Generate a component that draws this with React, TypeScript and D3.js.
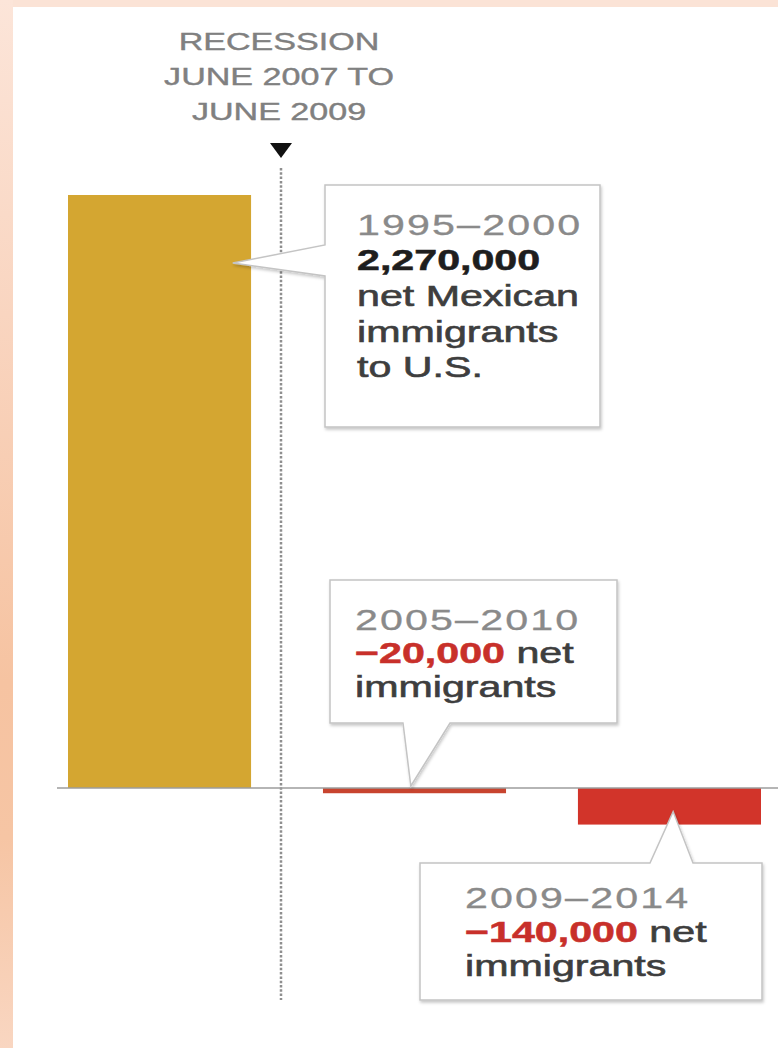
import React from "react";
import * as d3 from "d3";

// ---- data ----
const periods = ["1995–2000", "2005–2010", "2009–2014"];
const netMigrants = [2270000, -20000, -140000];
const barColors = ["#d4a631", "#c8442f", "#d2342a"];
const recessionLines = ["RECESSION", "JUNE 2007 TO", "JUNE 2009"];
const calloutTails = [["net Mexican", "immigrants", "to U.S."], ["net", "immigrants"], ["net", "immigrants"]];

const W = 778;
const H = 1048;
const SX = 1.42;
const FONT = "'Liberation Sans', Arial, sans-serif";

export default function App() {
  const x = d3.scaleBand<string>().domain(periods).range([68, 761]).paddingInner(0.282).paddingOuter(0);
  const y = d3.scaleLinear().domain([0, 2270000]).range([788, 195]);
  const bw = x.bandwidth();
  const fmt = d3.format(",");
  const recessionX = 281;

  const tip0 = [x(periods[0])! + bw * 0.9, y(netMigrants[0]) + 68];
  const tip1 = [x(periods[1])! + bw * 0.48, y(0) - 2];
  const tip2 = [x(periods[2])! + bw * 0.52, y(netMigrants[2]) - 13];

  const box0 = `M325,185 H600 V427 H325 V276 L${tip0[0]},${tip0[1]} L325,245 Z`;
  const box1 = `M330,580 H617 V723 H450 L${tip1[0]},${tip1[1]} L403,723 H330 Z`;
  const box2 = `M420,863 H650 L${tip2[0]},${tip2[1]} L693,863 H762 V1000 H420 Z`;

  const T = (px: number, py: number, children: React.ReactNode, props: any = {}) => (
    <text transform={`translate(${px},${py}) scale(${SX},1)`} fontFamily={FONT} fontSize={29} {...props}>
      {children}
    </text>
  );

  const yearProps = { fill: "#8a8a8a", letterSpacing: 1.5, stroke: "#8a8a8a", strokeWidth: 0.3 };
  const bodyProps = { fill: "#3e3e3e", stroke: "#3e3e3e", strokeWidth: 0.6 };

  return (
    <svg width={W} height={H} style={{ position: "absolute", left: 0, top: 0, background: "#fff" }}>
      <defs>
        <linearGradient id="frameL" x1="0" y1="0" x2="0" y2="1">
          <stop offset="0" stopColor="#fce5d9" />
          <stop offset="0.3" stopColor="#f9d5c0" />
          <stop offset="0.65" stopColor="#f6c3a1" />
          <stop offset="0.8" stopColor="#f6c5a4" />
          <stop offset="1" stopColor="#f9d6c1" />
        </linearGradient>
        <filter id="shadow" x="-10%" y="-10%" width="130%" height="130%">
          <feDropShadow dx="1" dy="2" stdDeviation="1.5" floodColor="#000" floodOpacity="0.22" />
        </filter>
      </defs>
      <rect x={0} y={0} width={W} height={7} fill="#fbe3d6" />
      <rect x={0} y={0} width={13} height={H} fill="url(#frameL)" />

      {/* recession label */}
      {recessionLines.map((l, i) => (
        <text
          key={l}
          transform={`translate(${recessionX - 2},${50 + i * 35}) scale(${SX},1)`}
          fontFamily={FONT}
          fontSize={24}
          fill="#808080"
          stroke="#808080"
          strokeWidth={0.4}
          textAnchor="middle"
        >
          {l}
        </text>
      ))}
      <path d={`M${recessionX - 11},143 L${recessionX + 11},143 L${recessionX},158 Z`} fill="#111" />
      <line x1={recessionX} x2={recessionX} y1={168} y2={1000} stroke="#8f8f8f" strokeWidth={2.5} strokeDasharray="2.5,1.8" />

      {/* bars */}
      {periods.map((p, i) => (
        <rect
          key={p}
          x={x(p)}
          y={Math.min(y(0), y(netMigrants[i]))}
          width={bw}
          height={Math.abs(y(netMigrants[i]) - y(0))}
          fill={barColors[i]}
        />
      ))}
      <line x1={57} x2={W} y1={y(0)} y2={y(0)} stroke="#9c9c9c" strokeWidth={1.5} />

      {/* callouts */}
      <path d={box0} fill="#fff" stroke="#c4c4c4" strokeWidth={1.5} filter="url(#shadow)" />
      <path d={box1} fill="#fff" stroke="#c4c4c4" strokeWidth={1.5} filter="url(#shadow)" />
      <path d={box2} fill="#fff" stroke="#c4c4c4" strokeWidth={1.5} filter="url(#shadow)" />

      {T(357, 235, periods[0], yearProps)}
      {T(357, 270, fmt(netMigrants[0]), { fill: "#1e1e1e", fontWeight: "bold", stroke: "#1e1e1e", strokeWidth: 0.5 })}
      {calloutTails[0].map((t, i) => (
        <React.Fragment key={t}>{T(357, 306 + i * 35.5, t, bodyProps)}</React.Fragment>
      ))}

      {T(355, 630, periods[1], yearProps)}
      {T(
        355,
        663,
        <>
          <tspan fill="#c8302a" stroke="#c8302a" strokeWidth={0.5} fontWeight="bold">{fmt(netMigrants[1]).replace("-", "–")}</tspan>
          <tspan fill="#3e3e3e" stroke="#3e3e3e" strokeWidth={0.6}> {calloutTails[1][0]}</tspan>
        </>
      )}
      {T(355, 697, calloutTails[1][1], bodyProps)}

      {T(465, 908, periods[2], yearProps)}
      {T(
        465,
        942,
        <>
          <tspan fill="#c8302a" stroke="#c8302a" strokeWidth={0.5} fontWeight="bold">{fmt(netMigrants[2]).replace("-", "–")}</tspan>
          <tspan fill="#3e3e3e" stroke="#3e3e3e" strokeWidth={0.6}> {calloutTails[2][0]}</tspan>
        </>
      )}
      {T(465, 976, calloutTails[2][1], bodyProps)}
    </svg>
  );
}
